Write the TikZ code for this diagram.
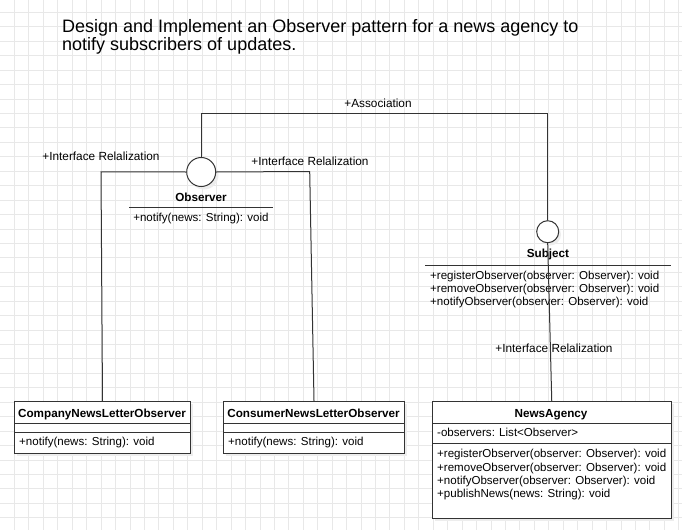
\documentclass[tikz,border=0pt]{standalone}
\usepackage{fontspec}
\setmainfont{Liberation Sans}
\begin{document}
\begin{tikzpicture}[x=1pt,y=-1pt,
  txt/.style={inner sep=0pt, font=\fontsize{11.55}{13}\selectfont, text=black},
  lbl/.style={inner sep=0pt, font=\fontsize{11.8}{13}\selectfont, text=black},
  btxt/.style={inner sep=0pt, font=\fontsize{11.7}{13}\selectfont\bfseries, text=black},
  conn/.style={draw=black!80, line width=1pt},
  sepline/.style={draw=black!80, line width=1pt},
  umlbox/.style={draw=black!80, line width=1pt, fill=white, inner sep=0pt, anchor=north west},
  iface/.style={circle, draw=black!80, line width=1pt, fill=white, inner sep=0pt},
  shade/.style={fill=black!7},
  gridline/.style={draw=gray!18, line width=0.8pt}
]
\useasboundingbox (0,0) rectangle (682,530);
\fill[white] (0,0) rectangle (682,530);
\foreach \i in {1,...,47} \draw[gridline] (\i*14.44,0) -- (\i*14.44,530);
\foreach \i in {0,...,36} \draw[gridline] (0,12.3+\i*14.44) -- (682,12.3+\i*14.44);

% title
\node[inner sep=0pt, anchor=base west, align=left, font=\fontsize{18}{17.7}\selectfont] (title) at (62,50)
  {Design and Implement an Observer pattern for a news agency to\\notify subscribers of updates.};

% shadows
\fill[shade] (17,404) rectangle (193,456);
\fill[shade] (226,404) rectangle (407,456);
\fill[shade] (435,404) rectangle (673.5,521);
\fill[shade] (204,175) circle (14.5);
\fill[shade] (550,234.5) circle (11);

% interface circles
\node[iface, minimum size=29pt] (obs) at (201.2,172) {};
\node[iface, minimum size=22pt] (subj) at (547.7,231.7) {};

% boxes
\node[umlbox, minimum width=176pt, minimum height=52pt] (company) at (14,401) {};
\node[umlbox, minimum width=181pt, minimum height=52pt] (consumer) at (223,401) {};
\node[umlbox, minimum width=238.5pt, minimum height=117pt] (agency) at (432,401) {};

% company
\draw[sepline] (14,423.5) -- (190,423.5);
\draw[sepline] (14,432.5) -- (190,432.5);
\node[btxt, anchor=base] (companyname) at (102,417.3) {CompanyNewsLetterObserver};
\node[txt, anchor=base west] (companyop) at (19,445.7) {+notify(news: String): void};

% consumer
\draw[sepline] (223,423.5) -- (404,423.5);
\draw[sepline] (223,432.5) -- (404,432.5);
\node[btxt, anchor=base] (consumername) at (313.5,417.3) {ConsumerNewsLetterObserver};
\node[txt, anchor=base west] (consumerop) at (228,445.7) {+notify(news: String): void};

% news agency
\draw[sepline] (432,423.3) -- (670.5,423.3);
\draw[sepline] (432,443.3) -- (670.5,443.3);
\node[btxt, anchor=base] (agencyname) at (551,417.3) {NewsAgency};
\node[txt, anchor=base west] (agencyattr) at (437,436.7) {-observers: List<Observer>};
\node[txt, anchor=base west] (agop1) at (437,457.7) {+registerObserver(observer: Observer): void};
\node[txt, anchor=base west] (agop2) at (437,471) {+removeObserver(observer: Observer): void};
\node[txt, anchor=base west] (agop3) at (437,484.3) {+notifyObserver(observer: Observer): void};
\node[txt, anchor=base west] (agop4) at (437,497.7) {+publishNews(news: String): void};

% observer interface texts
\node[btxt, anchor=base] (obsname) at (201,201) {Observer};
\draw[sepline] (129,207.3) -- (273,207.3);
\node[txt, anchor=base] (obsop) at (201,221) {+notify(news: String): void};

% subject interface texts
\node[btxt, anchor=base] (subjname) at (548,257.7) {Subject};
\draw[sepline] (425,265) -- (670.7,265);
\node[txt, anchor=base west] (subop1) at (430,279) {+registerObserver(observer: Observer): void};
\node[txt, anchor=base west] (subop2) at (430,292.2) {+removeObserver(observer: Observer): void};
\node[txt, anchor=base west] (subop3) at (430,305.4) {+notifyObserver(observer: Observer): void};

% connectors
\coordinate (assocL) at (201.2,113.3);
\coordinate (assocR) at (547.7,113.3);
\draw[conn] (obs.north) -- (assocL) -- (assocR) -- (subj.north);
\node[lbl, anchor=base] (assoclbl) at (378,107) {+Association};

\coordinate (lbend) at (101,171.8);
\draw[conn] (obs.west) -- (lbend) -- (company.north);
\node[lbl, anchor=base] (llbl) at (101,160.7) {+Interface Relalization};

\coordinate (rbend) at (309.7,171.5);
\draw[conn] (obs.east) -- (rbend) -- (consumer.north);
\node[lbl, anchor=base] (rlbl) at (310,165) {+Interface Relalization};

\draw[conn] (subj.south) -- (agency.north);
\node[lbl, anchor=base] (blbl) at (554,352) {+Interface Relalization};
\end{tikzpicture}
\end{document}
